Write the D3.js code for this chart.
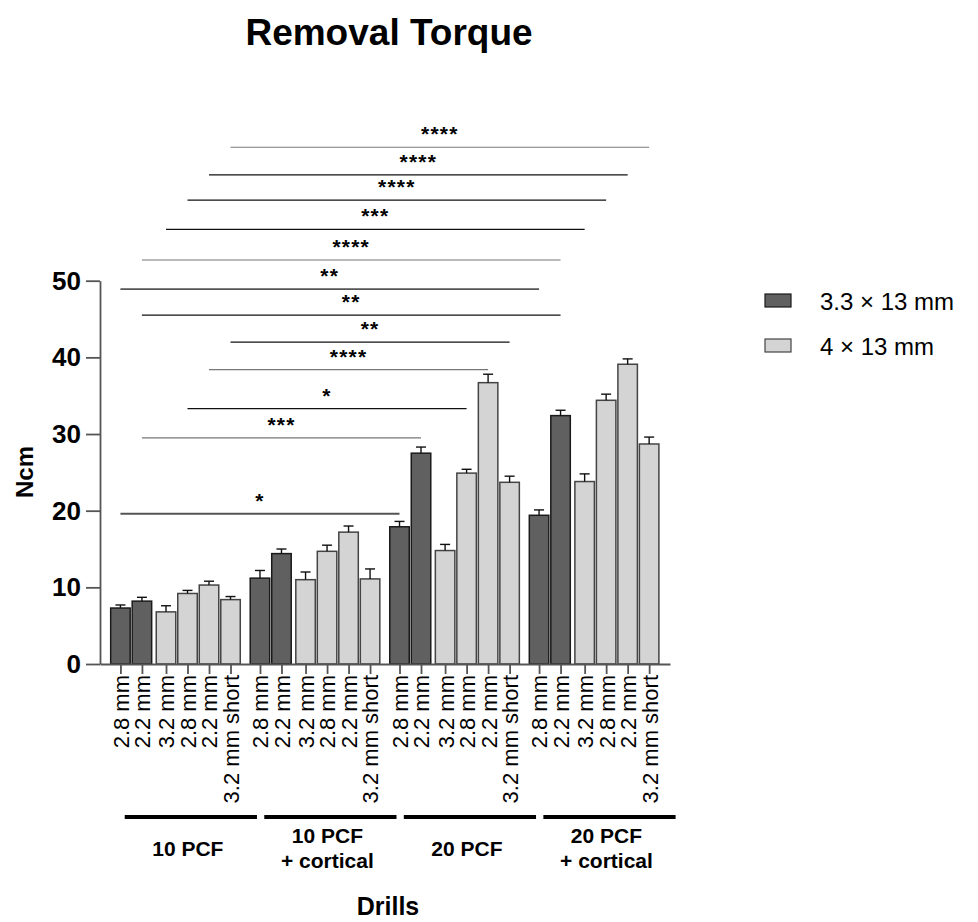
<!DOCTYPE html>
<html>
<head>
<meta charset="utf-8">
<script src="https://cdn.jsdelivr.net/npm/d3@7"></script>
<style>
  body { margin: 0; background: #fff; }
  svg { display: block; font-family: Arial, "Liberation Sans", sans-serif; }
</style>
</head>
<body>
<svg id="chart" width="978" height="922"></svg>
<script>
// data
const groups = [["10 PCF"], ["10 PCF", "+ cortical"], ["20 PCF"], ["20 PCF", "+ cortical"]];
const drills = ["2.8 mm", "2.2 mm", "3.2 mm", "2.8 mm", "2.2 mm", "3.2 mm short"];
const drillSeries = [0, 0, 1, 1, 1, 1];
const series = ["3.3 × 13 mm", "4 × 13 mm"];
const meanValues = [
  7.3, 8.2, 6.8, 9.2, 10.3, 8.4,
  11.2, 14.4, 11.0, 14.7, 17.2, 11.1,
  17.9, 27.5, 14.8, 24.9, 36.7, 23.7,
  19.4, 32.4, 23.8, 34.4, 39.1, 28.7
];
const errValues = [
  0.4, 0.5, 0.8, 0.4, 0.5, 0.4,
  1.0, 0.6, 1.0, 0.8, 0.8, 1.3,
  0.7, 0.8, 0.8, 0.5, 1.1, 0.8,
  0.7, 0.7, 1.0, 0.8, 0.7, 0.9
];
const yTicks = [0, 10, 20, 30, 40, 50];
// significance brackets (bar index from / to, height in Ncm)
const sigFrom = [5, 4, 3, 2, 1, 0, 1, 5, 4, 3, 1, 0];
const sigTo = [23, 22, 21, 20, 19, 18, 19, 17, 16, 15, 13, 12];
const sigLevel = [67.4, 63.8, 60.5, 56.7, 52.7, 48.9, 45.5, 42.0, 38.4, 33.3, 29.5, 19.6];
const sigLabel = ["****", "****", "****", "***", "****", "**", "**", "**", "****", "*", "***", "*"];
const sigGray = [1, 0, 0, 0, 1, 2, 0, 0, 1, 0, 1, 2];

const colors = ["#606060", "#d4d4d4"];
const strokes = ["#1a1a1a", "#444"];
const groupStep = 6.49;
const barW = 19.5;

const svg = d3.select("#chart");

const bars = [];
groups.forEach((g, gi) => {
  drills.forEach((d, di) => {
    const k = gi * drills.length + di;
    bars.push({
      slot: gi * groupStep + di + (di >= 2 ? 0.12 : 0),
      drill: d,
      s: drillSeries[di],
      value: meanValues[k],
      err: errValues[k]
    });
  });
});

const x = d3.scaleLinear().domain([-0.95, 25.56]).range([100, 670]);
const y = d3.scaleLinear().domain([0, 50]).range([664, 280.7]);

// title
svg.append("text")
  .attr("x", 389).attr("y", 45)
  .attr("text-anchor", "middle")
  .style("font-size", "37px").style("font-weight", "bold")
  .text("Removal Torque");

// bars
svg.append("g").selectAll("rect")
  .data(bars)
  .join("rect")
  .attr("x", d => x(d.slot) - barW / 2)
  .attr("y", d => y(d.value))
  .attr("width", barW)
  .attr("height", d => y(0) - y(d.value))
  .attr("fill", d => colors[d.s])
  .attr("stroke", d => strokes[d.s])
  .attr("stroke-width", 1.5);

// error bars (upper only)
const eb = svg.append("g").attr("stroke", "#111").attr("stroke-width", 1.4);
bars.forEach(d => {
  eb.append("line")
    .attr("x1", x(d.slot)).attr("x2", x(d.slot))
    .attr("y1", y(d.value)).attr("y2", y(d.value + d.err));
  eb.append("line")
    .attr("x1", x(d.slot) - 5).attr("x2", x(d.slot) + 5)
    .attr("y1", y(d.value + d.err)).attr("y2", y(d.value + d.err));
});

// y axis
const yAxis = svg.append("g")
  .attr("transform", "translate(100,0)")
  .call(d3.axisLeft(y).tickValues(yTicks).tickSize(14).tickSizeOuter(0).tickPadding(5));
yAxis.selectAll("path, line").attr("stroke", "#555").attr("stroke-width", 1.8);
yAxis.selectAll("text")
  .attr("fill", "#000")
  .style("font-size", "26px").style("font-weight", "bold")
  .style("font-family", "Arial, 'Liberation Sans', sans-serif");

// x axis
const xAxis = svg.append("g")
  .attr("transform", "translate(0,664)")
  .call(d3.axisBottom(x)
    .tickValues(bars.map(d => d.slot))
    .tickFormat((d, i) => bars[i].drill)
    .tickSize(10).tickSizeOuter(0));
xAxis.selectAll("path, line").attr("stroke", "#555").attr("stroke-width", 1.8);
xAxis.selectAll("text")
  .attr("fill", "#000")
  .attr("transform", "rotate(-90)")
  .attr("text-anchor", "end")
  .attr("x", -11).attr("y", 0).attr("dy", "0.36em")
  .style("font-size", "22px")
  .style("font-family", "Arial, 'Liberation Sans', sans-serif");

// axis titles
svg.append("text")
  .attr("transform", "translate(33,472) rotate(-90)")
  .attr("text-anchor", "middle")
  .style("font-size", "24px").style("font-weight", "bold")
  .text("Ncm");
svg.append("text")
  .attr("x", 388).attr("y", 915)
  .attr("text-anchor", "middle")
  .style("font-size", "25px").style("font-weight", "bold")
  .text("Drills");

// group bars and labels
groups.forEach((g, gi) => {
  const x1 = x(gi * groupStep + 0.2), x2 = x(gi * groupStep + 6.35);
  svg.append("line")
    .attr("x1", x1).attr("x2", x2)
    .attr("y1", 817).attr("y2", 817)
    .attr("stroke", "#000").attr("stroke-width", 4);
  const t = svg.append("text")
    .attr("text-anchor", "middle")
    .style("font-size", "21px").style("font-weight", "bold");
  g.forEach((line, li) => {
    t.append("tspan")
      .attr("x", (x1 + x2) / 2 - 3)
      .attr("y", g.length === 1 ? 856 : 843 + li * 25)
      .text(line);
  });
});

// significance brackets
const sigStroke = ["#111", "#777", "#555"];
const sigWidth = [1.3, 1.1, 1.8];
sigLevel.forEach((lv, i) => {
  const xa = x(bars[sigFrom[i]].slot), xb = x(bars[sigTo[i]].slot);
  svg.append("line")
    .attr("x1", xa).attr("x2", xb)
    .attr("y1", y(lv)).attr("y2", y(lv))
    .attr("stroke", sigStroke[sigGray[i]])
    .attr("stroke-width", sigWidth[sigGray[i]]);
  svg.append("text")
    .attr("x", (xa + xb) / 2).attr("y", y(lv) - 6)
    .attr("text-anchor", "middle")
    .style("font-size", "21px").style("font-weight", "bold")
    .style("letter-spacing", "1.2px")
    .text(sigLabel[i]);
});

// legend
const legend = svg.append("g");
series.forEach((s, i) => {
  legend.append("rect")
    .attr("x", 765).attr("y", 294 + i * 45)
    .attr("width", 26).attr("height", 13)
    .attr("fill", colors[i]).attr("stroke", strokes[i]).attr("stroke-width", 1.2);
  legend.append("text")
    .attr("x", 820).attr("y", 310 + i * 45)
    .style("font-size", "24px")
    .text(s);
});
</script>
</body>
</html>
